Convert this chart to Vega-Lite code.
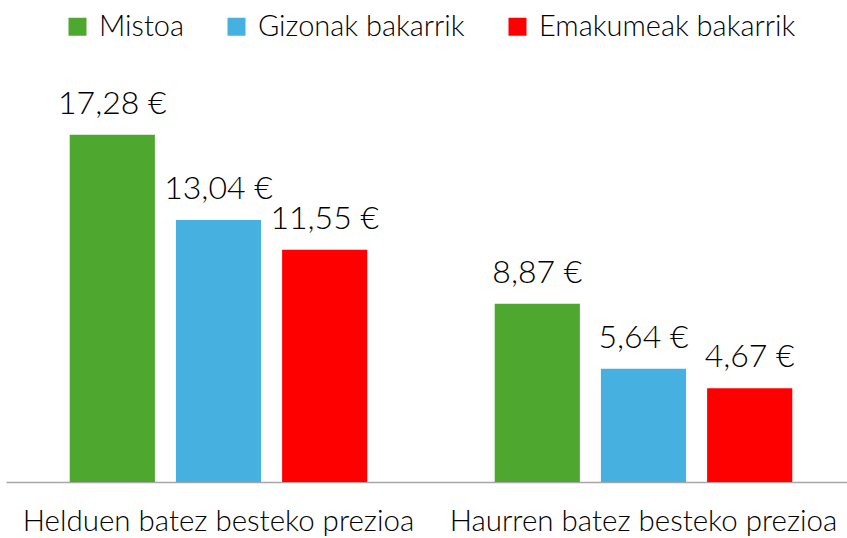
{
  "$schema": "https://vega.github.io/schema/vega-lite/v6.json",
  "autosize": "none",
  "width": 847,
  "height": 402,
  "padding": {"left": 0, "top": 80, "right": 0, "bottom": 56},
  "background": "white",
  "config": {
    "view": {"stroke": null},
    "font": "Lato",
    "locale": {
      "number": {"decimal": ",", "thousands": ".", "grouping": [3], "currency": ["", " €"]}
    }
  },
  "data": {
    "values": [
      {"category": "Helduen batez besteko prezioa", "series": "Mistoa", "value": 17.28},
      {"category": "Helduen batez besteko prezioa", "series": "Gizonak bakarrik", "value": 13.04},
      {"category": "Helduen batez besteko prezioa", "series": "Emakumeak bakarrik", "value": 11.55},
      {"category": "Haurren batez besteko prezioa", "series": "Mistoa", "value": 8.87},
      {"category": "Haurren batez besteko prezioa", "series": "Gizonak bakarrik", "value": 5.64},
      {"category": "Haurren batez besteko prezioa", "series": "Emakumeak bakarrik", "value": 4.67}
    ]
  },
  "encoding": {
    "x": {
      "field": "category",
      "type": "nominal",
      "sort": ["Helduen batez besteko prezioa", "Haurren batez besteko prezioa"],
      "scale": {"range": [6, 856], "paddingInner": 0, "paddingOuter": 0},
      "axis": {
        "title": null,
        "labelAngle": 0,
        "labelFontSize": 29.5,
        "labelFont": "Lato",
        "labelFontWeight": 300,
        "labelColor": "#000000",
        "labelPadding": 25,
        "labelLimit": 600,
        "ticks": false,
        "domainColor": "#a6a6a6",
        "domainWidth": 1.5,
        "grid": false
      }
    },
    "xOffset": {
      "field": "series",
      "type": "nominal",
      "sort": ["Mistoa", "Gizonak bakarrik", "Emakumeak bakarrik"],
      "scale": {"paddingInner": 0.198, "paddingOuter": 0.6}
    },
    "y": {
      "field": "value",
      "type": "quantitative",
      "scale": {"domain": [0, 20], "nice": false},
      "axis": null
    }
  },
  "layer": [
    {
      "mark": {"type": "bar"},
      "encoding": {
        "color": {
          "field": "series",
          "type": "nominal",
          "sort": ["Mistoa", "Gizonak bakarrik", "Emakumeak bakarrik"],
          "scale": {
            "domain": ["Mistoa", "Gizonak bakarrik", "Emakumeak bakarrik"],
            "range": ["#4ea72e", "#46b1e1", "#ff0000"]
          },
          "legend": {
            "orient": "none",
            "legendX": 63,
            "legendY": -68,
            "direction": "horizontal",
            "title": null,
            "symbolType": "square",
            "symbolSize": 324,
            "symbolStrokeWidth": 0,
            "labelFontSize": 29,
            "labelFont": "Lato",
            "labelFontWeight": 300,
            "labelColor": "#000000",
            "labelOffset": 7,
            "columnPadding": 38,
            "labelLimit": 400
          }
        }
      }
    },
    {
      "mark": {"type": "text", "baseline": "alphabetic", "dy": -21, "fontSize": 32, "font": "Lato", "fontWeight": 300, "color": "#000000"},
      "encoding": {
        "text": {"field": "value", "type": "quantitative", "format": "$.2f"}
      }
    }
  ]
}
